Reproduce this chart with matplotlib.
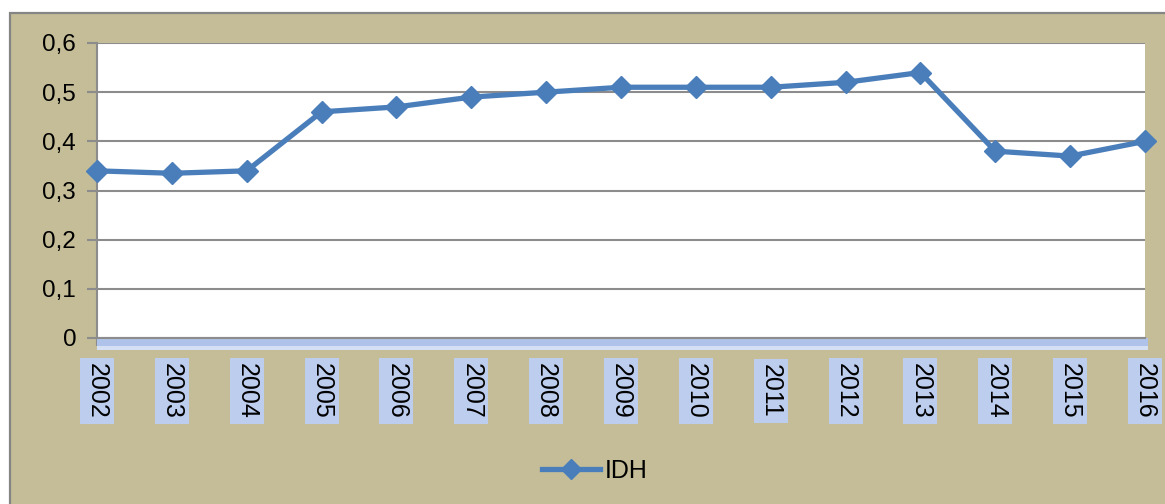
import matplotlib
matplotlib.use("Agg")
import matplotlib.pyplot as plt
from matplotlib.patches import Rectangle
import matplotlib.transforms as mtransforms

years = ["2002", "2003", "2004", "2005", "2006", "2007", "2008", "2009",
         "2010", "2011", "2012", "2013", "2014", "2015", "2016"]
idh = [0.34, 0.335, 0.34, 0.46, 0.47, 0.49, 0.50, 0.51,
       0.51, 0.51, 0.52, 0.54, 0.38, 0.37, 0.40]
yticks = [0, 0.1, 0.2, 0.3, 0.4, 0.5, 0.6]
ytick_labels = ["0", "0,1", "0,2", "0,3", "0,4", "0,5", "0,6"]
series_name = "IDH"

plt.rcParams['font.family'] = ['Liberation Sans Narrow', 'Liberation Sans', 'DejaVu Sans']

W, H = 1165, 504
fig = plt.figure(figsize=(W / 100, H / 100), dpi=100)
fig.patch.set_facecolor("white")

tan = "#C4BD97"
# outer chart area
fig.patches.append(Rectangle((10 / W, -0.05), 1.2, (H - 13) / H + 0.05,
                             transform=fig.transFigure, facecolor=tan,
                             edgecolor="#858585", linewidth=1.6, zorder=-5))

ax = fig.add_axes([97 / W, 1 - 338 / H, (1145 - 97) / W, (338 - 43) / H])
ax.set_zorder(2)
ax.set_facecolor("white")
x = list(range(len(years)))
ax.plot(x, idh, color="#4A7EBB", linewidth=3.8, marker="D", markersize=11.5,
        markerfacecolor="#4A7EBB", markeredgecolor="#4A7EBB",
        clip_on=False, zorder=5, label=series_name)

ax.set_xlim(0, len(years) - 1)
ax.set_ylim(0, 0.6)
ax.set_yticks(yticks)
ax.set_yticklabels(ytick_labels, fontsize=17.5)
ax.yaxis.grid(True, color="#8C8C8C", linewidth=1.5)
ax.set_axisbelow(True)
for s in ["top", "right"]:
    ax.spines[s].set_visible(False)
ax.spines["left"].set_color("#8C8C8C")
ax.spines["left"].set_linewidth(1.5)
ax.spines["bottom"].set_color("#8C8C8C")
ax.spines["bottom"].set_linewidth(1.5)
ax.tick_params(axis="y", length=7, width=1.5, color="#8C8C8C", pad=8,
               labelcolor="black")
ax.set_xticks(x)
ax.set_xticklabels([""] * len(years))
ax.tick_params(axis="x", length=6, width=1.5, color="#8C8C8C", direction="out")

# light-blue band under the axis
band = Rectangle((0, -12 / 295), 1 + 3 / 1048, 12 / 295, transform=ax.transAxes,
                 facecolor="#AFC3EA", edgecolor="none", clip_on=False, zorder=1)
ax.add_patch(band)
band2 = Rectangle((0, -12 / 295), 1 + 3 / 1048, 4 / 295, transform=ax.transAxes,
                  facecolor="#D6E0F4", edgecolor="none", clip_on=False, zorder=1)
ax.add_patch(band2)

trans = mtransforms.blended_transform_factory(ax.transData, fig.transFigure)
for xi, lab in zip(x, years):
    ax.text(xi, 1 - 391 / H, lab, transform=trans, rotation=270,
            ha="center", va="center", fontsize=18, color="black",
            bbox=dict(boxstyle="square,pad=0.2", facecolor="#BDCDEE",
                      edgecolor="none"), clip_on=False)

leg = fig.legend(loc="center", bbox_to_anchor=(595 / W, 1 - 471 / H),
                 frameon=False, fontsize=18, handlelength=2.3,
                 handletextpad=0.2, markerscale=0.9)

fig.savefig("out.png", dpi=100, facecolor=fig.get_facecolor())
